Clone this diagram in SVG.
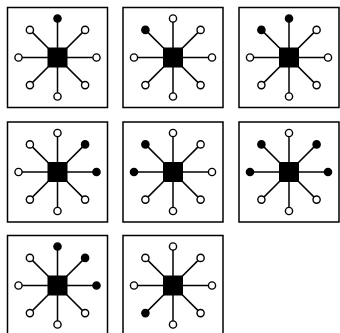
<svg xmlns="http://www.w3.org/2000/svg" xmlns:xlink="http://www.w3.org/1999/xlink" width="340" height="333" viewBox="0 0 340 333">
<style>
.frame{fill:#fff;stroke:#000;stroke-width:1.5}
.spoke{stroke:#000;stroke-width:1.5}
.hub{fill:#000}
.o{fill:#fff;stroke:#000;stroke-width:1.4}
.f{fill:#000;stroke:#000;stroke-width:1.4}
</style>
<defs>
<g id="star">
<rect class="frame" x="-50" y="-50" width="100" height="100"/>
<g class="spoke">
<line x1="0" y1="0" x2="0" y2="-39"/>
<line x1="0" y1="0" x2="27.6" y2="-27.6"/>
<line x1="0" y1="0" x2="39" y2="0"/>
<line x1="0" y1="0" x2="27.6" y2="27.6"/>
<line x1="0" y1="0" x2="0" y2="39"/>
<line x1="0" y1="0" x2="-27.6" y2="27.6"/>
<line x1="0" y1="0" x2="-39" y2="0"/>
<line x1="0" y1="0" x2="-27.6" y2="-27.6"/>
</g>
<rect class="hub" x="-10" y="-10" width="20" height="20"/>
</g>
</defs>
<rect width="340" height="333" fill="#fff"/>
<g id="node1" transform="translate(57.5,57.5)">
<use xlink:href="#star"/>
<circle class="f" cx="0" cy="-39" r="3.6"/><circle class="o" cx="27.6" cy="-27.6" r="3.6"/><circle class="o" cx="39" cy="0" r="3.6"/><circle class="o" cx="27.6" cy="27.6" r="3.6"/><circle class="o" cx="0" cy="39" r="3.6"/><circle class="o" cx="-27.6" cy="27.6" r="3.6"/><circle class="o" cx="-39" cy="0" r="3.6"/><circle class="o" cx="-27.6" cy="-27.6" r="3.6"/>
</g>
<g id="node2" transform="translate(173,57.5)">
<use xlink:href="#star"/>
<circle class="o" cx="0" cy="-39" r="3.6"/><circle class="o" cx="27.6" cy="-27.6" r="3.6"/><circle class="o" cx="39" cy="0" r="3.6"/><circle class="o" cx="27.6" cy="27.6" r="3.6"/><circle class="o" cx="0" cy="39" r="3.6"/><circle class="o" cx="-27.6" cy="27.6" r="3.6"/><circle class="o" cx="-39" cy="0" r="3.6"/><circle class="f" cx="-27.6" cy="-27.6" r="3.6"/>
</g>
<g id="node3" transform="translate(289,57.5)">
<use xlink:href="#star"/>
<circle class="f" cx="0" cy="-39" r="3.6"/><circle class="o" cx="27.6" cy="-27.6" r="3.6"/><circle class="o" cx="39" cy="0" r="3.6"/><circle class="o" cx="27.6" cy="27.6" r="3.6"/><circle class="o" cx="0" cy="39" r="3.6"/><circle class="o" cx="-27.6" cy="27.6" r="3.6"/><circle class="o" cx="-39" cy="0" r="3.6"/><circle class="f" cx="-27.6" cy="-27.6" r="3.6"/>
</g>
<g id="node4" transform="translate(57.5,172)">
<use xlink:href="#star"/>
<circle class="o" cx="0" cy="-39" r="3.6"/><circle class="f" cx="27.6" cy="-27.6" r="3.6"/><circle class="f" cx="39" cy="0" r="3.6"/><circle class="o" cx="27.6" cy="27.6" r="3.6"/><circle class="o" cx="0" cy="39" r="3.6"/><circle class="o" cx="-27.6" cy="27.6" r="3.6"/><circle class="o" cx="-39" cy="0" r="3.6"/><circle class="o" cx="-27.6" cy="-27.6" r="3.6"/>
</g>
<g id="node5" transform="translate(173,172)">
<use xlink:href="#star"/>
<circle class="o" cx="0" cy="-39" r="3.6"/><circle class="o" cx="27.6" cy="-27.6" r="3.6"/><circle class="o" cx="39" cy="0" r="3.6"/><circle class="o" cx="27.6" cy="27.6" r="3.6"/><circle class="o" cx="0" cy="39" r="3.6"/><circle class="o" cx="-27.6" cy="27.6" r="3.6"/><circle class="f" cx="-39" cy="0" r="3.6"/><circle class="f" cx="-27.6" cy="-27.6" r="3.6"/>
</g>
<g id="node6" transform="translate(289,172)">
<use xlink:href="#star"/>
<circle class="o" cx="0" cy="-39" r="3.6"/><circle class="f" cx="27.6" cy="-27.6" r="3.6"/><circle class="f" cx="39" cy="0" r="3.6"/><circle class="o" cx="27.6" cy="27.6" r="3.6"/><circle class="o" cx="0" cy="39" r="3.6"/><circle class="o" cx="-27.6" cy="27.6" r="3.6"/><circle class="f" cx="-39" cy="0" r="3.6"/><circle class="f" cx="-27.6" cy="-27.6" r="3.6"/>
</g>
<g id="node7" transform="translate(57.5,285.5)">
<use xlink:href="#star"/>
<circle class="f" cx="0" cy="-39" r="3.6"/><circle class="f" cx="27.6" cy="-27.6" r="3.6"/><circle class="f" cx="39" cy="0" r="3.6"/><circle class="o" cx="27.6" cy="27.6" r="3.6"/><circle class="o" cx="0" cy="39" r="3.6"/><circle class="o" cx="-27.6" cy="27.6" r="3.6"/><circle class="o" cx="-39" cy="0" r="3.6"/><circle class="o" cx="-27.6" cy="-27.6" r="3.6"/>
</g>
<g id="node8" transform="translate(173,285.5)">
<use xlink:href="#star"/>
<circle class="o" cx="0" cy="-39" r="3.6"/><circle class="o" cx="27.6" cy="-27.6" r="3.6"/><circle class="o" cx="39" cy="0" r="3.6"/><circle class="o" cx="27.6" cy="27.6" r="3.6"/><circle class="o" cx="0" cy="39" r="3.6"/><circle class="f" cx="-27.6" cy="27.6" r="3.6"/><circle class="o" cx="-39" cy="0" r="3.6"/><circle class="o" cx="-27.6" cy="-27.6" r="3.6"/>
</g>
</svg>
